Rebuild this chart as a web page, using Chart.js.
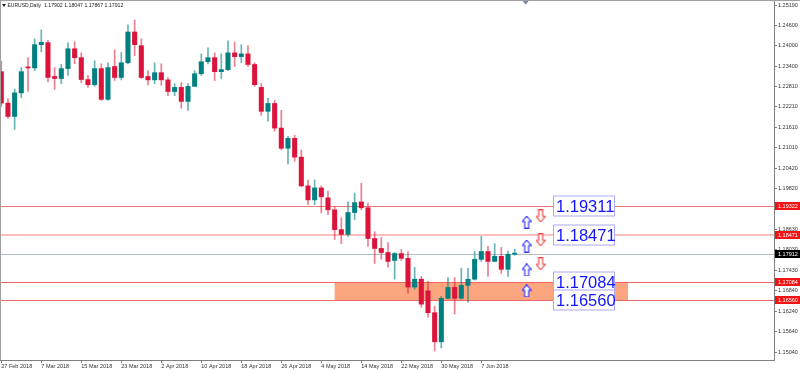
<!DOCTYPE html>
<html>
<head>
<meta charset="utf-8">
<script src="https://cdn.jsdelivr.net/npm/chart.js@4.4.1/dist/chart.umd.min.js"></script>
<style>
  html, body { margin: 0; padding: 0; background: #fff; }
  #wrap { width: 800px; height: 371px; }
</style>
</head>
<body>
<div id="wrap"><canvas id="chart" width="800" height="371"></canvas></div>
<script>
// --- Data (EURUSD daily) ---
const dates = [
  '27 Feb 2018', '28 Feb 2018', '1 Mar 2018', '2 Mar 2018', '5 Mar 2018', '6 Mar 2018', '7 Mar 2018', '8 Mar 2018', '9 Mar 2018', '12 Mar 2018',
  '13 Mar 2018', '14 Mar 2018', '15 Mar 2018', '16 Mar 2018', '19 Mar 2018', '20 Mar 2018', '21 Mar 2018', '22 Mar 2018', '23 Mar 2018', '26 Mar 2018',
  '27 Mar 2018', '28 Mar 2018', '29 Mar 2018', '30 Mar 2018', '2 Apr 2018', '3 Apr 2018', '4 Apr 2018', '5 Apr 2018', '6 Apr 2018', '9 Apr 2018',
  '10 Apr 2018', '11 Apr 2018', '12 Apr 2018', '13 Apr 2018', '16 Apr 2018', '17 Apr 2018', '18 Apr 2018', '19 Apr 2018', '20 Apr 2018', '23 Apr 2018',
  '24 Apr 2018', '25 Apr 2018', '26 Apr 2018', '27 Apr 2018', '30 Apr 2018', '1 May 2018', '2 May 2018', '3 May 2018', '4 May 2018', '7 May 2018',
  '8 May 2018', '9 May 2018', '10 May 2018', '11 May 2018', '14 May 2018', '15 May 2018', '16 May 2018', '17 May 2018', '18 May 2018', '21 May 2018',
  '22 May 2018', '23 May 2018', '24 May 2018', '25 May 2018', '28 May 2018', '29 May 2018', '30 May 2018', '31 May 2018', '1 Jun 2018', '4 Jun 2018',
  '5 Jun 2018', '6 Jun 2018', '7 Jun 2018', '8 Jun 2018', '11 Jun 2018', '12 Jun 2018', '13 Jun 2018', '14 Jun 2018'
];

const open = [
  1.2324, 1.2232, 1.2193, 1.2262, 1.2337, 1.2335, 1.2403, 1.2409, 1.2310, 1.2304,
  1.2333, 1.2391, 1.2365, 1.2301, 1.2286, 1.2333, 1.2243, 1.2339, 1.2307, 1.2350,
  1.2440, 1.2400, 1.2310, 1.2300, 1.2321, 1.2300, 1.2266, 1.2278, 1.2237, 1.2281,
  1.2318, 1.2353, 1.2365, 1.2324, 1.2330, 1.2379, 1.2368, 1.2376, 1.2345, 1.2278,
  1.2208, 1.2231, 1.2159, 1.2100, 1.2129, 1.2074, 1.1990, 1.1949, 1.1984, 1.1955,
  1.1920, 1.1862, 1.1848, 1.1912, 1.1943, 1.1926, 1.1836, 1.1807, 1.1795, 1.1772,
  1.1792, 1.1778, 1.1694, 1.1717, 1.1683, 1.1619, 1.1534, 1.1661, 1.1693, 1.1661,
  1.1699, 1.1717, 1.1775, 1.1798, 1.1769, 1.1784, 1.1746, 1.17902
];
const high = [
  1.2355, 1.2245, 1.2273, 1.2336, 1.2365, 1.2420, 1.2446, 1.2416, 1.2336, 1.2345,
  1.2409, 1.2412, 1.2379, 1.2313, 1.2356, 1.2347, 1.2350, 1.2388, 1.2380, 1.2461,
  1.2475, 1.2420, 1.2327, 1.2350, 1.2347, 1.2307, 1.2289, 1.2292, 1.2289, 1.2327,
  1.2376, 1.2394, 1.2379, 1.2376, 1.2414, 1.2411, 1.2403, 1.2400, 1.2350, 1.2289,
  1.2246, 1.2240, 1.2211, 1.2135, 1.2138, 1.2095, 1.2007, 1.2007, 1.1990, 1.1975,
  1.1929, 1.1897, 1.1943, 1.1969, 1.1998, 1.1940, 1.1856, 1.1839, 1.1824, 1.1795,
  1.1804, 1.1798, 1.1752, 1.1725, 1.1711, 1.1638, 1.1667, 1.1722, 1.1722, 1.1749,
  1.1749, 1.1798, 1.1842, 1.1813, 1.1821, 1.1810, 1.1799, 1.18047
];
const low = [
  1.2222, 1.2187, 1.2155, 1.2248, 1.2266, 1.2327, 1.2382, 1.2294, 1.2272, 1.2289,
  1.2313, 1.2347, 1.2292, 1.2278, 1.2281, 1.2240, 1.2240, 1.2298, 1.2300, 1.2347,
  1.2371, 1.2304, 1.2285, 1.2289, 1.2284, 1.2254, 1.2254, 1.2217, 1.2211, 1.2281,
  1.2313, 1.2347, 1.2298, 1.2304, 1.2327, 1.2339, 1.2350, 1.2339, 1.2281, 1.2196,
  1.2179, 1.2150, 1.2095, 1.2054, 1.2062, 1.1987, 1.1935, 1.1935, 1.1911, 1.1906,
  1.1833, 1.1821, 1.1842, 1.1891, 1.1920, 1.1813, 1.1763, 1.1775, 1.1752, 1.1717,
  1.1772, 1.1676, 1.1688, 1.1635, 1.1606, 1.1507, 1.1516, 1.1659, 1.1615, 1.1659,
  1.1650, 1.1714, 1.1769, 1.1725, 1.1769, 1.1734, 1.1725, 1.17867
];
const close = [
  1.2232, 1.2193, 1.2262, 1.2324, 1.2335, 1.2403, 1.2410, 1.2307, 1.2304, 1.2333,
  1.2391, 1.2365, 1.2301, 1.2286, 1.2333, 1.2243, 1.2336, 1.2307, 1.2350, 1.2440,
  1.2403, 1.2307, 1.2300, 1.2321, 1.2300, 1.2266, 1.2278, 1.2237, 1.2281, 1.2318,
  1.2353, 1.2365, 1.2324, 1.2330, 1.2379, 1.2368, 1.2376, 1.2345, 1.2286, 1.2208,
  1.2231, 1.2159, 1.2100, 1.2129, 1.2074, 1.1990, 1.1949, 1.1984, 1.1958, 1.1920,
  1.1862, 1.1848, 1.1912, 1.1941, 1.1926, 1.1836, 1.1807, 1.1795, 1.1769, 1.1792,
  1.1778, 1.1694, 1.1717, 1.1644, 1.1619, 1.1534, 1.1661, 1.1693, 1.1661, 1.1699,
  1.1717, 1.1775, 1.1798, 1.1769, 1.1784, 1.1746, 1.1790, 1.17912
];

const yTicks = [1.25190, 1.24600, 1.24000, 1.23400, 1.22810, 1.22210, 1.21610, 1.21010, 1.20420,
  1.19820, 1.19230, 1.18630, 1.18030, 1.17430, 1.16840, 1.16240, 1.15640, 1.15040];

// horizontal levels, zone and text objects (bar index / price)
const levels = [1.19322, 1.18471, 1.17912, 1.17084, 1.16560];
const zoneBars = [50, 94];
const zonePrices = [1.17084, 1.16560];
const textBars = [82.75, 82.75, 82.75, 82.75];
const textPrices = [1.19322, 1.18471, 1.17084, 1.16560];
const textValues = ['1.19311', '1.18471', '1.17084', '1.16560'];
const upBars = [78.8, 78.8, 78.8, 78.8];
const upPrices = [1.1884, 1.1814, 1.1744, 1.1683];
const downBars = [80.9, 80.9, 80.9];
const downPrices = [1.1902, 1.1832, 1.1762];

const headerSymbol = 'EURUSD,Daily';
const headerOHLC = '1.17902 1.18047 1.17867 1.17912';

// --- Styles ---
const BULL = 'rgb(0,128,128)';
const BEAR = 'rgb(220,20,60)';
const levelColors = ['rgb(240,120,120)', 'rgb(255,190,190)', 'rgb(180,188,200)', 'rgb(240,100,100)', 'rgb(235,105,105)'];
const levelWidths = [1, 2, 1, 1, 1];
const tagColors = ['rgb(240,20,20)', 'rgb(240,20,20)', '#000', 'rgb(240,20,20)', 'rgb(240,20,20)'];
const SMALL = '5.5px "Liberation Sans", Arial, sans-serif';

Chart.defaults.font.family = '"Liberation Sans", Arial, sans-serif';
Chart.defaults.font.size = 5.5;
Chart.defaults.color = '#333';

const isBull = open.map((o, i) => close[i] >= o);

function arrowImage(up, color) {
  const c = document.createElement('canvas');
  c.width = 10; c.height = 13;
  const g = c.getContext('2d');
  g.translate(0.5, 0.5);
  if (!up) { g.translate(0, 12); g.scale(1, -1); }
  g.beginPath();
  g.moveTo(4.5, 0); g.lineTo(9, 5.5); g.lineTo(6.5, 5.5); g.lineTo(6.5, 12);
  g.lineTo(2.5, 12); g.lineTo(2.5, 5.5); g.lineTo(0, 5.5); g.closePath();
  g.fillStyle = '#fff'; g.fill();
  g.strokeStyle = color; g.lineWidth = 1.1; g.stroke();
  return c;
}

const overlay = {
  id: 'overlay',
  beforeDatasetsDraw(chart) {
    const { ctx, chartArea: a, scales: { x, y } } = chart;
    ctx.save();
    const zx0 = x.getPixelForValue(zoneBars[0]), zx1 = x.getPixelForValue(zoneBars[1]);
    const zy0 = y.getPixelForValue(zonePrices[0]), zy1 = y.getPixelForValue(zonePrices[1]);
    ctx.fillStyle = 'rgb(252,166,128)';
    ctx.fillRect(zx0, zy0, zx1 - zx0, zy1 - zy0);
    levels.forEach((p, i) => {
      const py = Math.round(y.getPixelForValue(p)) + (levelWidths[i] === 1 ? 0.5 : 0);
      ctx.strokeStyle = levelColors[i];
      ctx.lineWidth = levelWidths[i];
      ctx.beginPath(); ctx.moveTo(a.left, py); ctx.lineTo(a.right, py); ctx.stroke();
    });
    ctx.restore();
  },
  afterDraw(chart) {
    const { ctx, chartArea: a, scales: { x, y } } = chart;
    ctx.save();
    // text objects
    ctx.font = '16.5px "Liberation Sans", Arial, sans-serif';
    ctx.textBaseline = 'middle';
    textValues.forEach((t, i) => {
      const bx = Math.round(x.getPixelForValue(textBars[i])) + 0.5;
      const by = Math.round(y.getPixelForValue(textPrices[i]));
      ctx.fillStyle = '#fff';
      ctx.fillRect(bx, by - 10, 61, 20);
      ctx.strokeStyle = 'rgb(170,170,255)';
      ctx.lineWidth = 1;
      ctx.strokeRect(bx, by - 10, 61, 20);
      ctx.fillStyle = 'rgb(20,20,255)';
      ctx.fillText(t, bx + 2.5, by + 1);
    });
    // price tags on the axis
    ctx.font = SMALL;
    levels.forEach((p, i) => {
      const py = Math.round(y.getPixelForValue(p));
      ctx.fillStyle = tagColors[i];
      ctx.fillRect(a.right + 1, py - 4, 800 - a.right - 1, 8);
      ctx.fillStyle = '#fff';
      ctx.fillText(p.toFixed(5), a.right + 4, py + 0.5);
    });
    // header
    ctx.fillStyle = '#222';
    ctx.beginPath(); ctx.moveTo(2, 4); ctx.lineTo(6, 4); ctx.lineTo(4, 7); ctx.closePath(); ctx.fill();
    ctx.font = '5px "Liberation Sans", Arial, sans-serif';
    ctx.fillText(headerSymbol, 7.5, 6);
    ctx.font = '5.2px "Liberation Sans", Arial, sans-serif';
    ctx.fillText(headerOHLC, 44, 6);
    // frame
    ctx.strokeStyle = '#a0a0a0';
    ctx.lineWidth = 1;
    ctx.beginPath(); ctx.moveTo(0, 0.5); ctx.lineTo(800, 0.5); ctx.stroke();
    ctx.beginPath(); ctx.moveTo(0.5, 0); ctx.lineTo(0.5, a.bottom); ctx.stroke();
    // chart shift marker
    const sx = x.getPixelForValue(78.65);
    ctx.fillStyle = 'rgb(120,135,155)';
    ctx.beginPath(); ctx.moveTo(sx - 3, 1); ctx.lineTo(sx + 3, 1); ctx.lineTo(sx, 4.5); ctx.closePath(); ctx.fill();
    ctx.restore();
  }
};

new Chart(document.getElementById('chart'), {
  type: 'bar',
  data: {
    datasets: [
      {
        label: 'up arrows', type: 'scatter', order: 0,
        data: upBars.map((b, i) => ({ x: b, y: upPrices[i] })),
        pointStyle: arrowImage(true, 'rgb(40,40,255)'), pointRadius: 6, clip: false
      },
      {
        label: 'down arrows', type: 'scatter', order: 0,
        data: downBars.map((b, i) => ({ x: b, y: downPrices[i] })),
        pointStyle: arrowImage(false, 'rgb(240,60,60)'), pointRadius: 6, clip: false
      },
      {
        label: 'body', order: 1, grouped: false,
        data: open.map((o, i) => ({ x: i, y: [o, close[i]] })),
        backgroundColor: isBull.map(b => b ? BULL : BEAR),
        barThickness: 4.4, minBarLength: 1, borderWidth: 0
      },
      {
        label: 'wick', order: 2, grouped: false,
        data: high.map((h, i) => ({ x: i, y: [low[i], h] })),
        backgroundColor: isBull.map(b => b ? 'rgba(0,128,128,0.6)' : 'rgba(220,20,60,0.55)'),
        barThickness: 1, borderWidth: 0
      }
    ]
  },
  options: {
    responsive: false,
    animation: false,
    events: [],
    layout: { padding: 0, autoPadding: false },
    plugins: { legend: { display: false }, tooltip: { enabled: false } },
    scales: {
      x: {
        type: 'linear', position: 'bottom', offset: false,
        min: -0.195, max: 115.9,
        afterBuildTicks: s => { s.ticks = dates.map((d, i) => i).filter(i => i % 6 === 0).map(v => ({ value: v })); },
        afterFit: s => { s.height = 11; s.paddingLeft = 0; s.paddingRight = 0; },
        ticks: { callback: v => dates[v], align: 'start', autoSkip: false, maxRotation: 0, minRotation: 0, padding: 0, color: '#333', font: { size: 5.5 } },
        grid: { offset: false, drawOnChartArea: false, drawTicks: true, tickLength: 3, color: '#808080' },
        border: { display: true, color: '#808080' }
      },
      y: {
        type: 'linear', position: 'right',
        min: 1.2519 - 355 / 3419, max: 1.2519 + 5 / 3419,
        afterBuildTicks: s => { s.ticks = yTicks.map(v => ({ value: v })); },
        afterFit: s => { s.width = 26; s.paddingTop = 0; s.paddingBottom = 0; },
        ticks: { callback: v => v.toFixed(5), padding: 1, autoSkip: false, color: '#333', font: { size: 5.5 } },
        grid: { drawOnChartArea: false, drawTicks: true, tickLength: 3, color: '#808080' },
        border: { display: true, color: '#808080' }
      }
    }
  },
  plugins: [overlay]
});
</script>
</body>
</html>
